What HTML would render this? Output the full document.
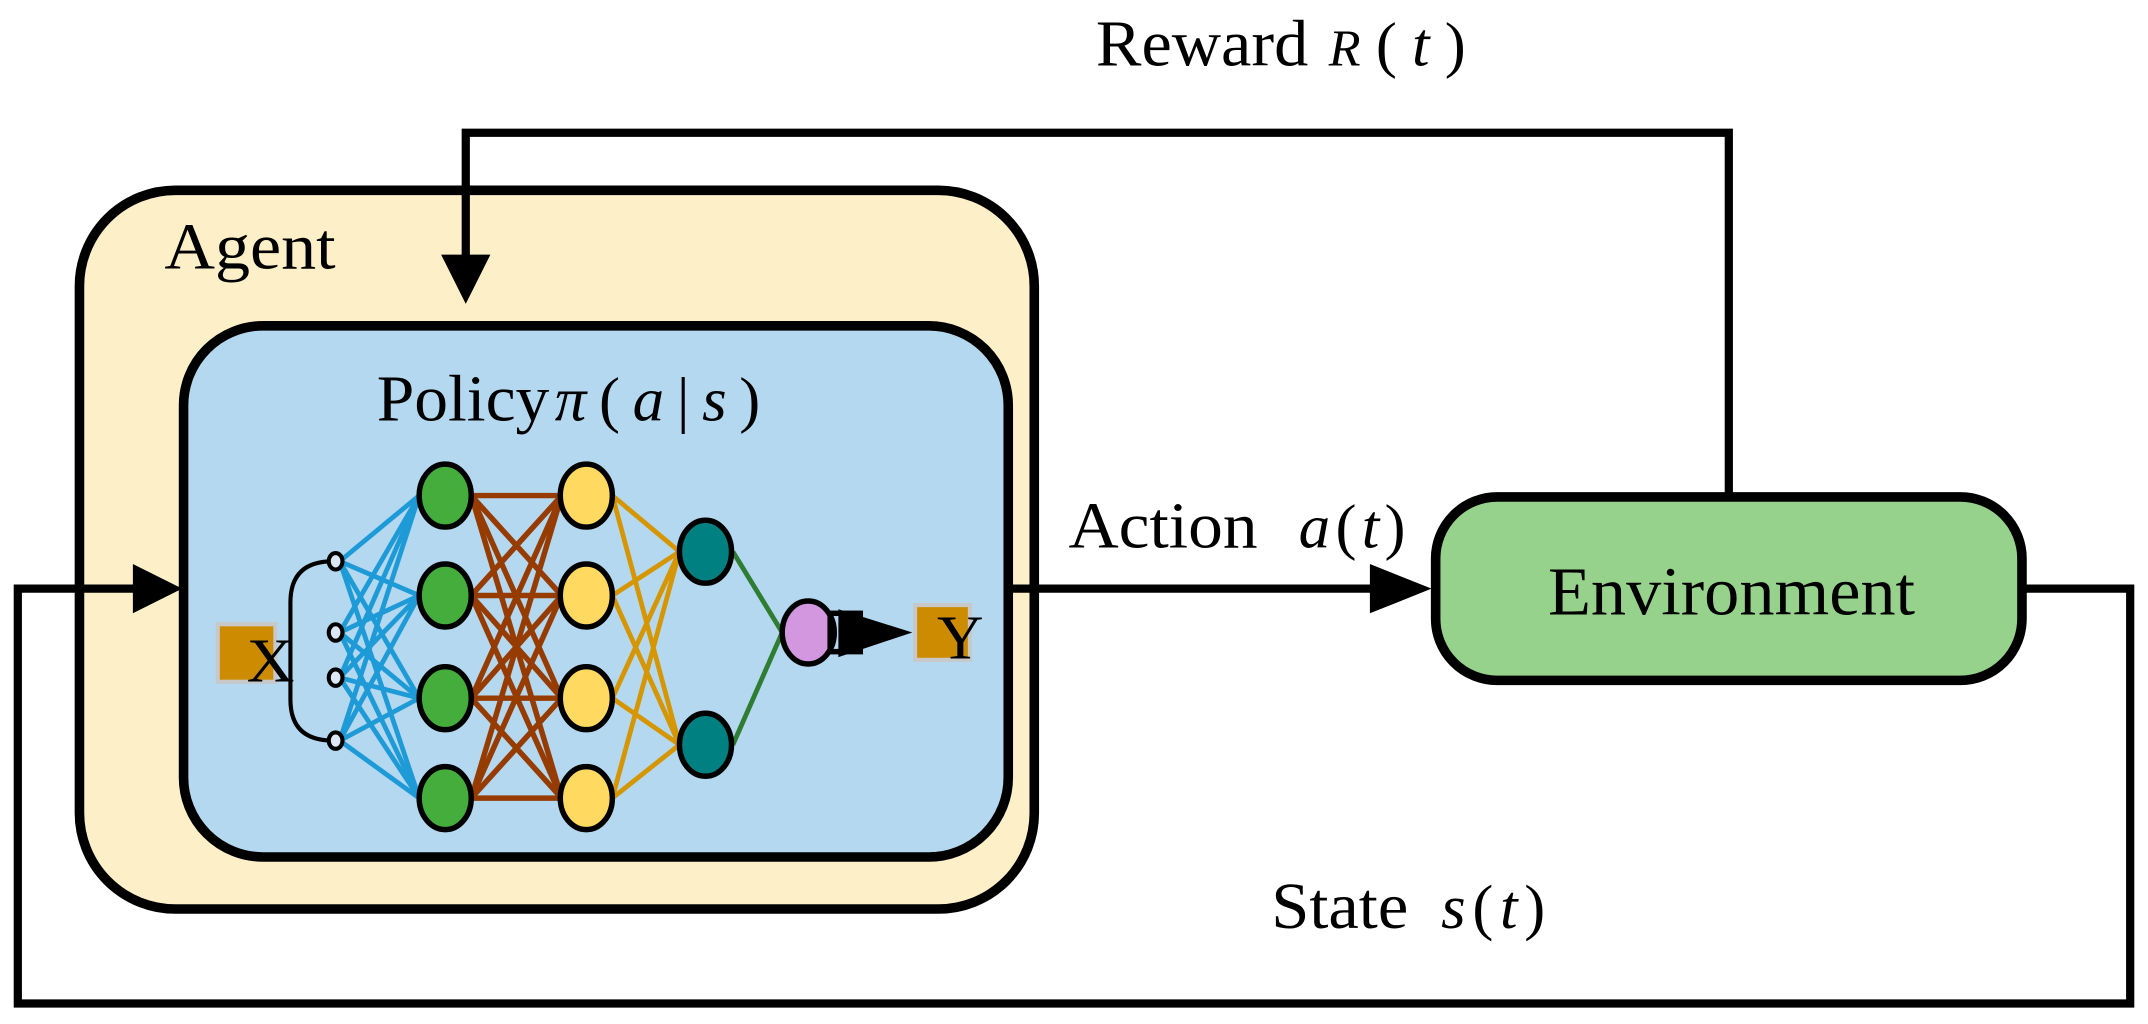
<!DOCTYPE html>
<html><head><style>html,body{margin:0;padding:0;background:#fff}svg{display:block}</style></head><body>
<svg width="2148" height="1024" viewBox="0 0 1568 748" preserveAspectRatio="none" xmlns="http://www.w3.org/2000/svg" font-family="Liberation Serif, serif">
<!-- Agent -->
<rect x="58" y="139" width="697" height="525" rx="70" fill="#fdf0c9" stroke="#000" stroke-width="7"/>
<text x="120" y="196" font-size="48" textLength="125" lengthAdjust="spacingAndGlyphs">Agent</text>
<!-- Policy -->
<rect x="134" y="238" width="602" height="388" rx="58" fill="#b4d8ef" stroke="#000" stroke-width="7"/>
<text x="275" y="307" font-size="48" textLength="126" lengthAdjust="spacingAndGlyphs">Policy</text>
<text x="405" y="307" font-size="46" textLength="150" lengthAdjust="spacing"><tspan font-style="italic">π</tspan>(<tspan font-style="italic">a</tspan>|<tspan font-style="italic">s</tspan>)</text>
<!-- Reward loop -->
<polyline points="1262,362 1262,97 340,97 340,190" fill="none" stroke="#000" stroke-width="6"/>
<polygon points="322,186 358,186 340,222" fill="#000"/>
<!-- State loop -->
<polyline points="1478,430 1555,430 1555,733 13,733 13,430 100,430" fill="none" stroke="#000" stroke-width="6"/>
<polygon points="97,412 133,430 97,448" fill="#000"/>
<!-- Action -->
<line x1="736" y1="430" x2="1005" y2="430" stroke="#000" stroke-width="6"/>
<polygon points="1000,412 1045,430 1000,448" fill="#000"/>
<text x="780" y="400" font-size="48" textLength="138" lengthAdjust="spacingAndGlyphs">Action</text>
<text x="948" y="400" font-size="46" textLength="78" lengthAdjust="spacing"><tspan font-style="italic">a</tspan>(<tspan font-style="italic">t</tspan>)</text>
<text x="800" y="48" font-size="48" textLength="155" lengthAdjust="spacingAndGlyphs">Reward</text>
<text x="970" y="48" font-size="46" textLength="100" lengthAdjust="spacing"><tspan font-style="italic" font-size="38">R</tspan>(<tspan font-style="italic">t</tspan>)</text>
<text x="928" y="678" font-size="48" textLength="100" lengthAdjust="spacingAndGlyphs">State</text>
<text x="1052" y="678" font-size="46" textLength="76" lengthAdjust="spacing"><tspan font-style="italic">s</tspan>(<tspan font-style="italic">t</tspan>)</text>
<!-- Environment -->
<rect x="1048" y="363" width="428" height="134" rx="45" fill="#96d28b" stroke="#000" stroke-width="7"/>
<text x="1130" y="449" font-size="50" textLength="268" lengthAdjust="spacingAndGlyphs">Environment</text>
<!-- NN -->
<g stroke-width="3.5">
<g stroke="#1e9bd7">
<line x1="248" y1="410" x2="306" y2="362"/><line x1="248" y1="410" x2="306" y2="435"/><line x1="248" y1="410" x2="306" y2="510"/><line x1="248" y1="410" x2="306" y2="583"/>
<line x1="248" y1="462" x2="306" y2="362"/><line x1="248" y1="462" x2="306" y2="435"/><line x1="248" y1="462" x2="306" y2="510"/><line x1="248" y1="462" x2="306" y2="583"/>
<line x1="248" y1="495" x2="306" y2="362"/><line x1="248" y1="495" x2="306" y2="435"/><line x1="248" y1="495" x2="306" y2="510"/><line x1="248" y1="495" x2="306" y2="583"/>
<line x1="248" y1="541" x2="306" y2="362"/><line x1="248" y1="541" x2="306" y2="435"/><line x1="248" y1="541" x2="306" y2="510"/><line x1="248" y1="541" x2="306" y2="583"/>
</g>
<g stroke="#963c00" stroke-width="4">
<line x1="344" y1="362" x2="410" y2="362"/><line x1="344" y1="362" x2="410" y2="435"/><line x1="344" y1="362" x2="410" y2="510"/><line x1="344" y1="362" x2="410" y2="583"/>
<line x1="344" y1="435" x2="410" y2="362"/><line x1="344" y1="435" x2="410" y2="435"/><line x1="344" y1="435" x2="410" y2="510"/><line x1="344" y1="435" x2="410" y2="583"/>
<line x1="344" y1="510" x2="410" y2="362"/><line x1="344" y1="510" x2="410" y2="435"/><line x1="344" y1="510" x2="410" y2="510"/><line x1="344" y1="510" x2="410" y2="583"/>
<line x1="344" y1="583" x2="410" y2="362"/><line x1="344" y1="583" x2="410" y2="435"/><line x1="344" y1="583" x2="410" y2="510"/><line x1="344" y1="583" x2="410" y2="583"/>
</g>
<g stroke="#d69600">
<line x1="447" y1="362" x2="496" y2="403"/><line x1="447" y1="362" x2="496" y2="544"/>
<line x1="447" y1="435" x2="496" y2="403"/><line x1="447" y1="435" x2="496" y2="544"/>
<line x1="447" y1="510" x2="496" y2="403"/><line x1="447" y1="510" x2="496" y2="544"/>
<line x1="447" y1="583" x2="496" y2="403"/><line x1="447" y1="583" x2="496" y2="544"/>
</g>
<g stroke="#2e7d32"><line x1="535" y1="403" x2="571" y2="462"/><line x1="535" y1="544" x2="571" y2="462"/></g>
</g>
<path d="M243,410 Q212,410 212,440 L212,511 Q212,541 243,541" fill="none" stroke="#000" stroke-width="3"/>
<g fill="#dde6f5" stroke="#000" stroke-width="3">
<ellipse cx="245" cy="410" rx="5" ry="6"/><ellipse cx="245" cy="462" rx="5" ry="6"/><ellipse cx="245" cy="495" rx="5" ry="6"/><ellipse cx="245" cy="541" rx="5" ry="6"/>
</g>
<g stroke="#000" stroke-width="4">
<g fill="#44ad3c"><ellipse cx="325" cy="362" rx="19" ry="23"/><ellipse cx="325" cy="435" rx="19" ry="23"/><ellipse cx="325" cy="510" rx="19" ry="23"/><ellipse cx="325" cy="583" rx="19" ry="23"/></g>
<g fill="#ffd960"><ellipse cx="428" cy="362" rx="19" ry="23"/><ellipse cx="428" cy="435" rx="19" ry="23"/><ellipse cx="428" cy="510" rx="19" ry="23"/><ellipse cx="428" cy="583" rx="19" ry="23"/></g>
<g fill="#008080"><ellipse cx="515" cy="403" rx="19" ry="23"/><ellipse cx="515" cy="544" rx="19" ry="23"/></g>
<ellipse cx="590" cy="462" rx="19" ry="23" fill="#d397e0"/>
</g>
<rect x="606" y="448" width="22" height="28" fill="none" stroke="#000" stroke-width="4"/>
<polygon points="612,445 666,462 612,480" fill="#000"/>
<rect x="159" y="456" width="42" height="42" fill="#cc8b00" stroke="#c8c8c8" stroke-width="3"/>
<text x="180" y="498" font-size="46" textLength="35" lengthAdjust="spacingAndGlyphs">X</text>
<rect x="668" y="442" width="40" height="40" fill="#cc8b00" stroke="#c8c8c8" stroke-width="3"/>
<text x="684" y="481" font-size="46" textLength="34" lengthAdjust="spacingAndGlyphs">Y</text>
</svg>
</body></html>
